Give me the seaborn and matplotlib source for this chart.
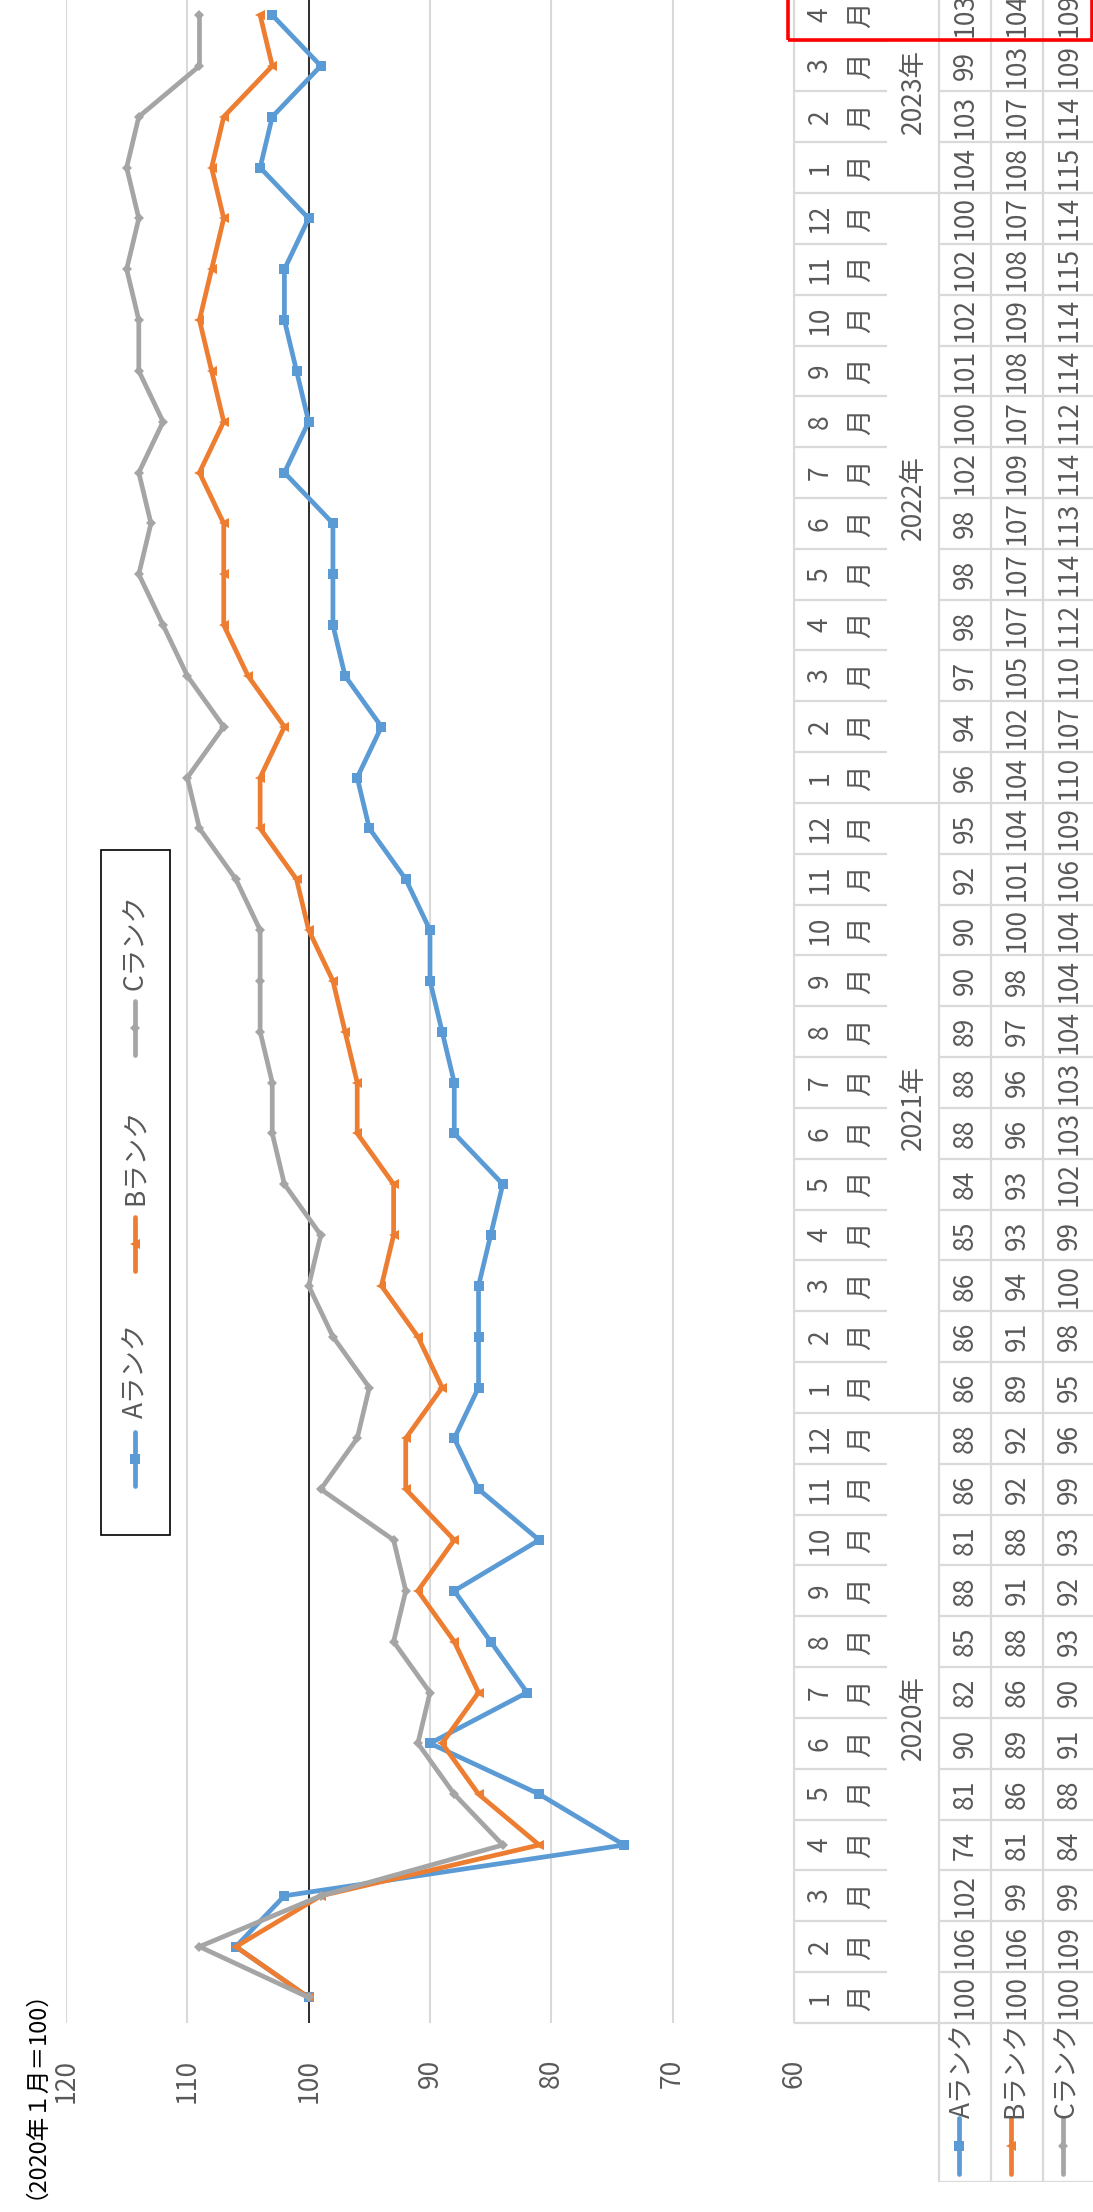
import matplotlib
matplotlib.use("Agg")
import matplotlib.pyplot as plt
import pandas as pd
import seaborn as sns
from matplotlib.patches import Rectangle
from matplotlib.lines import Line2D

# ---- data -------------------------------------------------------------
years = ["2020年", "2021年", "2022年", "2023年"]
months_per_year = [12, 12, 12, 4]
month_numbers = [str(m) for y_len in months_per_year for m in range(1, y_len + 1)]
series_names = ["Aランク", "Bランク", "Cランク"]
rank_a = [100, 106, 102, 74, 81, 90, 82, 85, 88, 81, 86, 88,
          86, 86, 86, 85, 84, 88, 88, 89, 90, 90, 92, 95,
          96, 94, 97, 98, 98, 98, 102, 100, 101, 102, 102, 100,
          104, 103, 99, 103]
rank_b = [100, 106, 99, 81, 86, 89, 86, 88, 91, 88, 92, 92,
          89, 91, 94, 93, 93, 96, 96, 97, 98, 100, 101, 104,
          104, 102, 105, 107, 107, 107, 109, 107, 108, 109, 108, 107,
          108, 107, 103, 104]
rank_c = [100, 109, 99, 84, 88, 91, 90, 93, 92, 93, 99, 96,
          95, 98, 100, 99, 102, 103, 103, 104, 104, 104, 106, 109,
          110, 107, 110, 112, 114, 113, 114, 112, 114, 114, 115, 114,
          115, 114, 109, 109]
value_ticks = [120, 110, 100, 90, 80, 70, 60]
base_note = "（2020年１月＝100）"

colors = ["#5B9BD5", "#ED7D31", "#A5A5A5"]
markers = ["s", "<", "D"]
marker_sizes = [7.0, 7.5, 5.0]
TXT = "#595959"
GRID = "#D9D9D9"

sns.set_style("white")
plt.rcParams["font.family"] = ["Noto Sans CJK JP", "DejaVu Sans"]

# long table for plotting
series_values = [rank_a, rank_b, rank_c]
n = len(month_numbers)
df = pd.DataFrame({
    "rank": [s for s in series_names for _ in range(n)],
    "idx": [i for _ in series_names for i in range(n)],
    "value": [v for vals in series_values for v in vals],
})

# ---- layout (pixels, portrait page, chart turned on its side) ---------
W, H = 1093, 2212
fig = plt.figure(figsize=(W / 100, H / 100), dpi=100)
fig.patch.set_facecolor("white")

BAND = 50.83
AX_BOTTOM = 2022.9
TOP = AX_BOTTOM - n * BAND
PLOT_L, PLOT_R = 66, 794
TABLE_R = 1095
HEADER_B = 2182


def fx(X):
    return X / W


def fy(Y):
    return 1 - Y / H


def yd(Y):
    return -0.5 + (AX_BOTTOM - Y) / BAND


# ---- line chart --------------------------------------------------------
ax = fig.add_axes([fx(PLOT_L), fy(AX_BOTTOM), fx(PLOT_R) - fx(PLOT_L),
                   (AX_BOTTOM - TOP) / H])
for name, col, mk, ms in zip(series_names, colors, markers, marker_sizes):
    sub = df[df["rank"] == name]
    sns.lineplot(data=sub, x="value", y="idx", orient="y", estimator=None,
                 errorbar=None, sort=False, color=col,
                 linewidth=3.4, marker=mk, markersize=ms, markeredgewidth=0,
                 ax=ax, legend=False, zorder=3)
ax.axvline(100, color="black", linewidth=1.1, zorder=2)
ax.set_xlim(120, 60)
ax.set_ylim(-0.5, n - 0.5)
ax.set_xticks(value_ticks)
ax.set_xticklabels([str(v) for v in value_ticks], rotation=90,
                   color=TXT, fontsize=19)
ax.tick_params(axis="x", length=0, pad=26)
ax.set_yticks([])
ax.set_xlabel("")
ax.set_ylabel("")
ax.grid(axis="x", color=GRID, linewidth=1.5, zorder=0)
ax.set_axisbelow(True)
for sp in ax.spines.values():
    sp.set_visible(False)

fig.text(fx(24), fy(2083), base_note, rotation=90, ha="center",
         va="center", fontsize=17, color="black")

# ---- legend box --------------------------------------------------------
fig.add_artist(Rectangle((fx(101), fy(1535)), fx(170) - fx(101),
                         (1535 - 850) / H, fill=False, edgecolor="black",
                         linewidth=1.2, transform=fig.transFigure))
leg_items = [(1459, 1370), (1244, 1157), (1028, 942)]
for (mk_y, txt_y), name, col, mk, ms in zip(leg_items, series_names, colors,
                                            markers, marker_sizes):
    fig.add_artist(Line2D([fx(135), fx(135)], [fy(mk_y - 27), fy(mk_y + 27)],
                          color=col, linewidth=3.4, solid_capstyle="round",
                          transform=fig.transFigure))
    fig.add_artist(Line2D([fx(135)], [fy(mk_y)], marker=mk, markersize=ms,
                          markeredgewidth=0, color=col,
                          transform=fig.transFigure))
    fig.text(fx(136), fy(txt_y), name, rotation=90, ha="center", va="center",
             fontsize=19, color=TXT)

# ---- data table --------------------------------------------------------
tx = fig.add_axes([fx(PLOT_R), fy(HEADER_B), fx(TABLE_R) - fx(PLOT_R),
                   (HEADER_B - TOP) / H])
tx.set_xlim(PLOT_R, TABLE_R)
tx.set_ylim(yd(HEADER_B), n - 0.5)
tx.axis("off")

MON_NUM_X, MON_X, MON_END = 820, 862, 887
YEAR_X, DATA_L = 913, 939
col_edges = [939, 991, 1043, 1095]
col_centers = [965, 1017, 1069]
LC = dict(color=GRID, linewidth=1.6, solid_capstyle="butt")

tx.plot([PLOT_R, PLOT_R], [-0.5, n - 0.5], **LC)
for xe in col_edges:
    tx.plot([xe, xe], [yd(HEADER_B), n - 0.5], **LC)
tx.plot([PLOT_R, TABLE_R], [-0.5, -0.5], **LC)
tx.plot([DATA_L, TABLE_R], [yd(HEADER_B), yd(HEADER_B)], **LC)

year_starts = [sum(months_per_year[:k]) for k in range(len(years))]
for i in range(n - 1):
    b = i + 0.5
    if (i + 1) in year_starts:
        tx.plot([PLOT_R, TABLE_R], [b, b], **LC)
    else:
        tx.plot([PLOT_R, MON_END], [b, b], **LC)
        tx.plot([DATA_L, TABLE_R], [b, b], **LC)

tk = dict(rotation=90, ha="center", va="center", fontsize=19, color=TXT)
for i, m in enumerate(month_numbers):
    tx.text(MON_NUM_X, i, m, **tk)
    tx.text(MON_X, i, "月", **tk)
for yr, start, cnt in zip(years, year_starts, months_per_year):
    tx.text(YEAR_X, start + (cnt - 1) / 2, yr, **tk)
for vals, xc in zip(series_values, col_centers):
    for i, v in enumerate(vals):
        tx.text(xc, i, str(v), **tk)

for name, col, mk, ms, xc in zip(series_names, colors, markers, marker_sizes,
                                 col_centers):
    tx.text(xc - 2, yd(2070), name, **tk)
    tx.plot([xc - 6, xc - 6], [yd(2118), yd(2174)], color=col, linewidth=3.4,
            solid_capstyle="round")
    tx.plot([xc - 6], [yd(2146)], marker=mk, markersize=ms,
            markeredgewidth=0, color=col)

# highlight on the latest month
fig.add_artist(Rectangle((fx(787.5), fy(39.5)), fx(1091.5) - fx(787.5),
                         (39.5 + 20) / H, fill=False, edgecolor="#FF0000",
                         linewidth=2.6, transform=fig.transFigure))

fig.savefig("out.png", dpi=100, facecolor="white")
